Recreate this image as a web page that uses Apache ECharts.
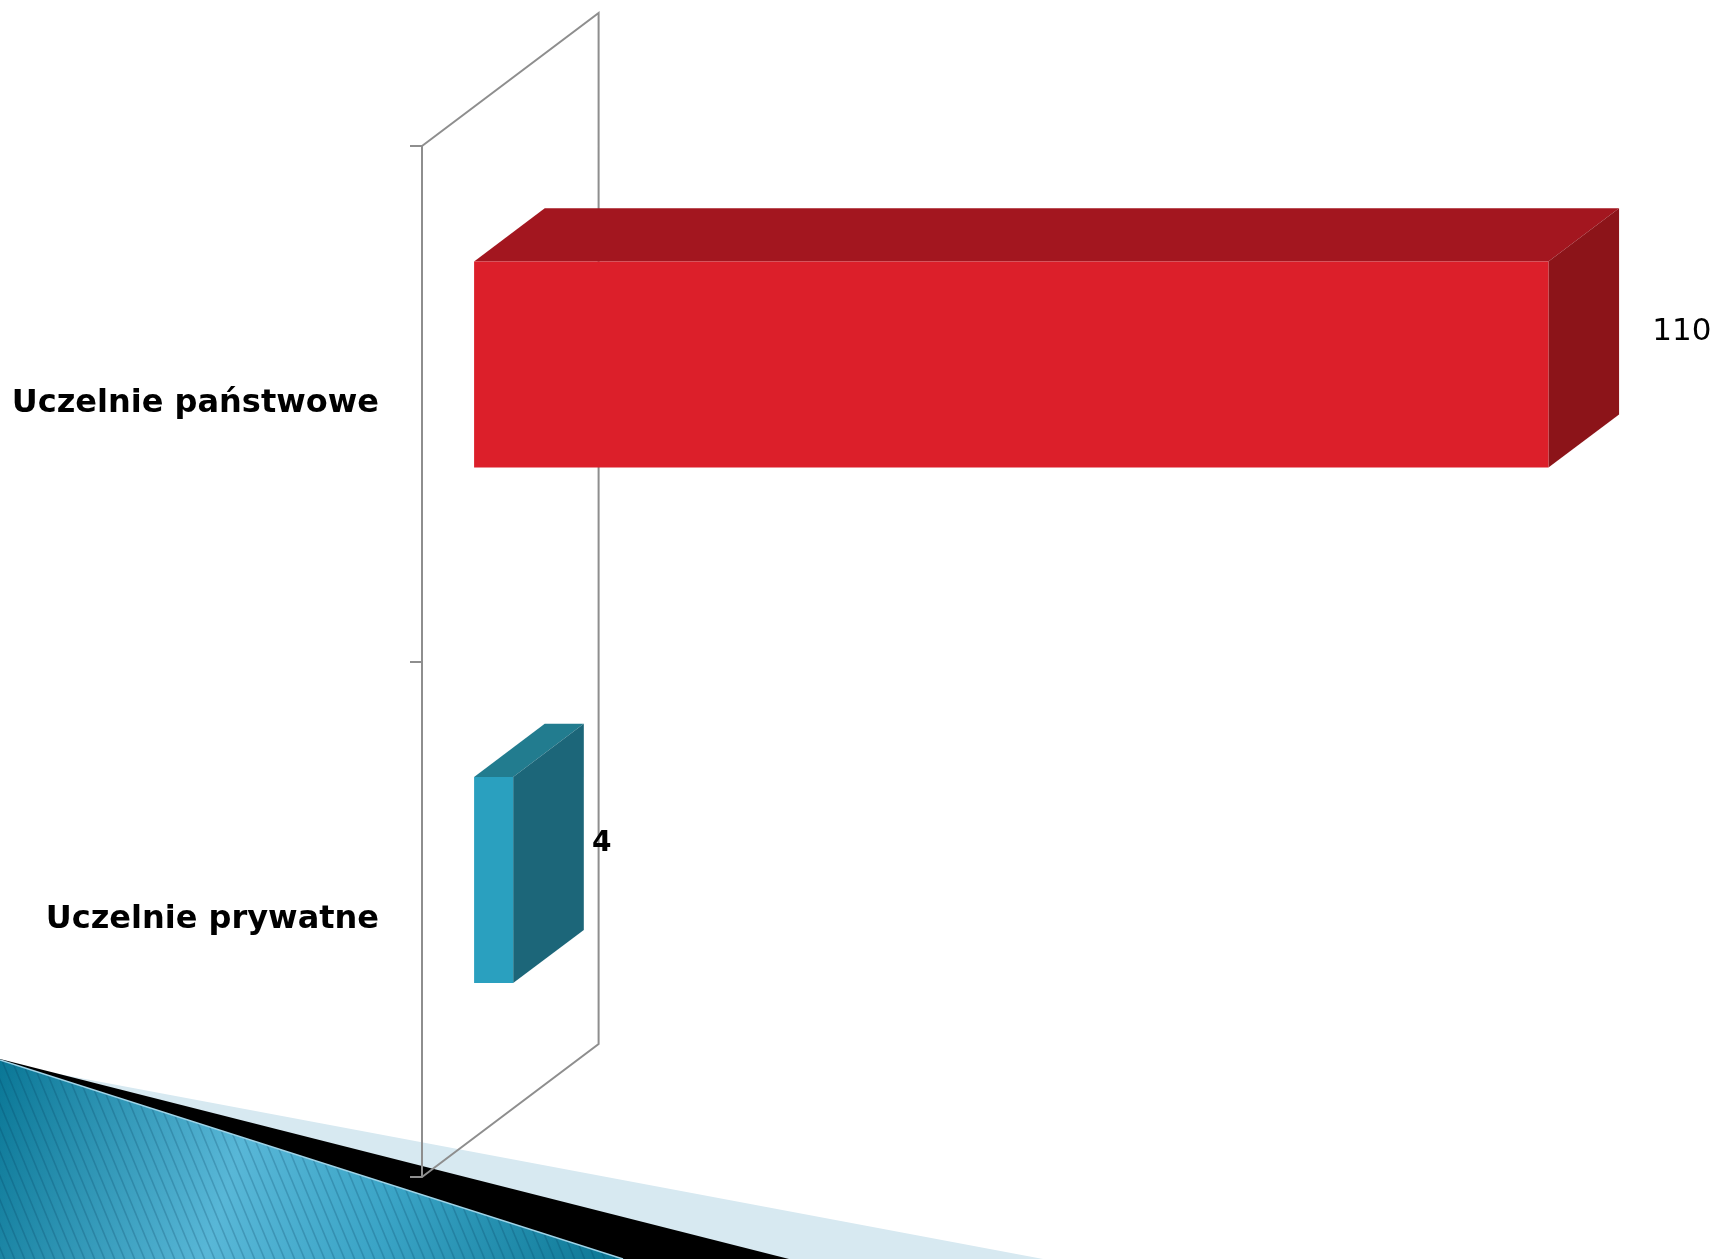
<!DOCTYPE html>
<html>
<head>
<meta charset="utf-8">
<style>
  html, body { margin: 0; padding: 0; background: #ffffff; }
  #chart { width: 1717px; height: 1259px; }
</style>
<script src="https://cdn.jsdelivr.net/npm/echarts@6/dist/echarts.min.js"></script>
</head>
<body>
<div id="chart"></div>
<script>
// ---- data ----
const categories = ['Uczelnie państwowe', 'Uczelnie prywatne'];
const values = [110, 4];
const valueAxisMax = 120;
const valueAxisInterval = 20;

// ---- style ----
const faceColors = [
  { front: '#DC1F2A', top: '#A3161F', side: '#8C1419' },
  { front: '#2AA0BF', top: '#227C8F', side: '#1C6679' }
];
const labelStyles = [
  { dx: 156, dy: -72, fontSize: 31, fontWeight: 'normal' },
  { dx: 131, dy: -76, fontSize: 28, fontWeight: 'bold' }
];
const DEPTH_X = 176.6, DEPTH_Y = -133;   // oblique depth of the wall
const BAR_F0 = 0.295, BAR_F1 = 0.695;    // bar front/back depth fractions
const BAR_RATIO = 0.4;
const WALL_COLOR = '#8e8e8e';

const chart = echarts.init(document.getElementById('chart'), null, { renderer: 'canvas' });

// stripe pattern for the decorative corner
const pat = document.createElement('canvas');
pat.width = 10; pat.height = 24;
(function () {
  const c = pat.getContext('2d');
  c.strokeStyle = 'rgba(0,55,85,0.22)';
  c.lineWidth = 1.6;
  c.beginPath();
  c.moveTo(-10, -24); c.lineTo(20, 48);
  c.moveTo(-20, -24); c.lineTo(10, 48);
  c.moveTo(0, -24); c.lineTo(30, 48);
  c.stroke();
})();

const tealPts = [[0, 1060], [623, 1259], [0, 1259]];

const option = {
  backgroundColor: '#ffffff',
  animation: false,
  grid: { left: 422, top: 146, width: 1172, height: 1031, containLabel: false },
  xAxis: { type: 'value', min: 0, max: valueAxisMax, interval: valueAxisInterval, show: false },
  yAxis: {
    type: 'category',
    data: categories,
    inverse: true,
    z: 5,
    axisLine: { show: true, lineStyle: { color: WALL_COLOR, width: 2 } },
    axisTick: { show: true, length: 12, lineStyle: { color: WALL_COLOR, width: 2 } },
    axisLabel: { fontSize: 32, fontWeight: 'bold', fontFamily: 'DejaVu Sans', color: '#000000', margin: 43 },
    splitLine: { show: false }
  },
  graphic: [
    { type: 'polygon', z: 0, silent: true, shape: { points: [[0, 1063], [1043, 1259], [0, 1259]] }, style: { fill: '#D7E9F1' } },
    { type: 'polygon', z: 0, silent: true, shape: { points: [[0, 1059], [789, 1259], [0, 1259]] }, style: { fill: '#000000' } },
    { type: 'polygon', z: 0, silent: true, shape: { points: tealPts },
      style: { fill: { type: 'linear', x: 0, y: 1060, x2: 640, y2: 1259, global: true,
        colorStops: [
          { offset: 0, color: '#0a7796' },
          { offset: 0.38, color: '#58b7d7' },
          { offset: 0.62, color: '#3aa4c6' },
          { offset: 1, color: '#077390' }
        ] } } },
    { type: 'polygon', z: 0, silent: true, shape: { points: tealPts }, style: { fill: { image: pat, repeat: 'repeat' } } },
    { type: 'polyline', z: 0, silent: true, shape: { points: tealPts.slice(0, 2) }, style: { stroke: '#9fd4e8', lineWidth: 1.5, fill: null } }
  ],
  series: [
    {
      type: 'custom',
      name: 'wall',
      coordinateSystem: 'cartesian2d',
      z: 3,
      silent: true,
      data: [[0, 0]],
      renderItem: function (params, api) {
        const cs = params.coordSys;
        const x = cs.x, y = cs.y, h = cs.height;
        return {
          type: 'polyline',
          shape: { points: [[x, y], [x + DEPTH_X, y + DEPTH_Y], [x + DEPTH_X, y + h + DEPTH_Y], [x, y + h]] },
          style: { stroke: WALL_COLOR, lineWidth: 2, fill: null }
        };
      }
    },
    {
      type: 'custom',
      name: 'bars',
      coordinateSystem: 'cartesian2d',
      z: 4,
      data: values.map((v, i) => [v, i]),
      encode: { x: 0, y: 1 },
      renderItem: function (params, api) {
        const i = params.dataIndex;
        const v = api.value(0), c = api.value(1);
        const p0 = api.coord([0, c]);
        const p1 = api.coord([v, c]);
        const band = api.size([0, 1])[1];
        const h = band * BAR_RATIO;
        const fx = BAR_F0 * DEPTH_X, fy = BAR_F0 * DEPTH_Y;
        const bx = (BAR_F1 - BAR_F0) * DEPTH_X, by = (BAR_F1 - BAR_F0) * DEPTH_Y;
        const xl = p0[0] + fx, xr = p1[0] + fx;
        const yt = p0[1] + fy - h / 2, yb = p0[1] + fy + h / 2;
        const col = faceColors[i];
        const ls = labelStyles[i];
        return {
          type: 'group',
          children: [
            { type: 'polygon', shape: { points: [[xl, yt], [xr, yt], [xr + bx, yt + by], [xl + bx, yt + by]] }, style: { fill: col.top } },
            { type: 'polygon', shape: { points: [[xr, yt], [xr + bx, yt + by], [xr + bx, yb + by], [xr, yb]] }, style: { fill: col.side } },
            { type: 'rect', shape: { x: xl, y: yt, width: xr - xl, height: yb - yt }, style: { fill: col.front } },
            { type: 'text', z2: 10, x: p1[0] + ls.dx, y: p1[1] + ls.dy,
              style: { text: String(v), fill: '#000000', fontSize: ls.fontSize, fontWeight: ls.fontWeight,
                fontFamily: 'DejaVu Sans', align: 'left', verticalAlign: 'middle' } }
          ]
        };
      }
    }
  ]
};
chart.setOption(option);
</script>
</body>
</html>
